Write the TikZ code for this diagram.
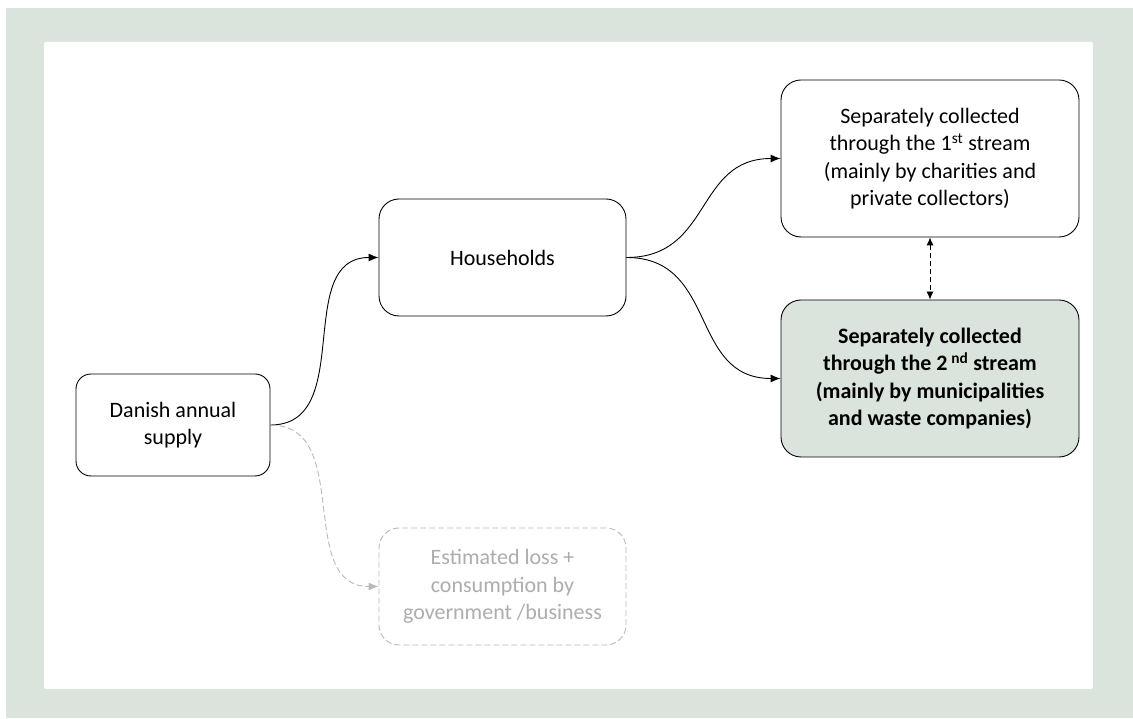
\documentclass[tikz,border=0pt]{standalone}
\usepackage{fontspec}
\setmainfont{Carlito}
\usepackage{tikz}
\usetikzlibrary{arrows.meta, positioning}

\definecolor{panelgreen}{HTML}{DAE3DC}
\definecolor{lossgray}{HTML}{ADADAD}

\tikzset{
  flowbox/.style = {draw, rounded corners=20pt, line width=0.9pt, align=center,
                    font=\fontsize{22}{27.5}\selectfont, inner sep=0pt},
  flowarrow/.style = {line width=0.9pt, -{Latex[length=10pt,width=8pt]}},
  lossline/.style = {draw=lossgray!85, dash pattern=on 6pt off 3pt},
}

\begin{document}
\begin{tikzpicture}[x=1pt, y=1pt]
\useasboundingbox (0,0) rectangle (1133,718);
% frame
\fill[panelgreen] (6,0) rectangle (1133,710);
\fill[white, rounded corners=2pt] (44,29) rectangle (1093,676);

% boxes
\node[flowbox, rounded corners=15pt, minimum width=194pt, minimum height=102pt] (supply) at (173,293) {Danish annual\\supply};
\node[flowbox, minimum width=247pt, minimum height=117pt] (house) at (502.5,460.5) {Households};
\node[flowbox, minimum width=298pt, minimum height=157pt] (first) at (930,559.5)
  {Separately collected\\through the 1\textsuperscript{st} stream\\(mainly by charities and\\private collectors)};
\node[flowbox, fill=panelgreen, minimum width=298pt, minimum height=157pt, font=\fontsize{22}{27.5}\selectfont\bfseries] (second) at (930,339.5)
  {Separately collected\\through the 2\,\textsuperscript{nd} stream\\(mainly by municipalities\\and waste companies)};
\node[flowbox, lossline, text=lossgray, minimum width=247pt, minimum height=117pt] (loss) at (502.5,131.5)
  {Estimated loss +\\consumption by\\government /business};

% connectors
\draw[flowarrow] (supply.east) to[out=0, in=180, looseness=1.1] (house.west);
\draw[flowarrow, lossline] (supply.east) to[out=0, in=180, looseness=1.1] (loss.west);
\draw[flowarrow] (house.east) to[out=0, in=180, looseness=1.2] (first.west);
\draw[flowarrow] (house.east) to[out=0, in=180, looseness=1.2] (second.west);
\draw[line width=0.9pt, dash pattern=on 5pt off 3pt, {Latex[length=8pt,width=7pt]}-{Latex[length=8pt,width=7pt]}] (first.south) -- (second.north);
\end{tikzpicture}
\end{document}
